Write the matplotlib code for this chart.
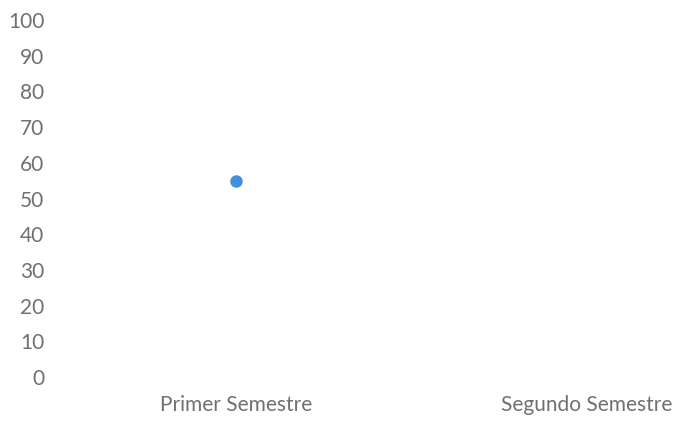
import matplotlib.pyplot as plt

semestres = ["Primer Semestre", "Segundo Semestre"]
valores = [55, None]
yticks = list(range(0, 101, 10))

plt.rcParams['font.family'] = ['Lato', 'DejaVu Sans']

fig = plt.figure(figsize=(6.77, 4.24), dpi=100)
ax = fig.add_axes([0.08, 0.1108, 0.92, 0.842])

xs = [i for i, v in enumerate(valores) if v is not None]
ys = [v for v in valores if v is not None]
ax.plot(xs, ys, "o", color="#4090e0", markersize=9, markeredgewidth=0)

ax.set_ylim(0, 100)
ax.set_yticks(yticks)
ax.set_xlim(-0.518, 1.256)
ax.set_xticks(range(len(semestres)))
ax.set_xticklabels(semestres)

for s in ax.spines.values():
    s.set_visible(False)
ax.tick_params(axis="both", length=0, labelsize=15, colors="#707070")
ax.tick_params(axis="y", pad=7)
ax.tick_params(axis="x", pad=13)

fig.savefig("out.png", dpi=100)
